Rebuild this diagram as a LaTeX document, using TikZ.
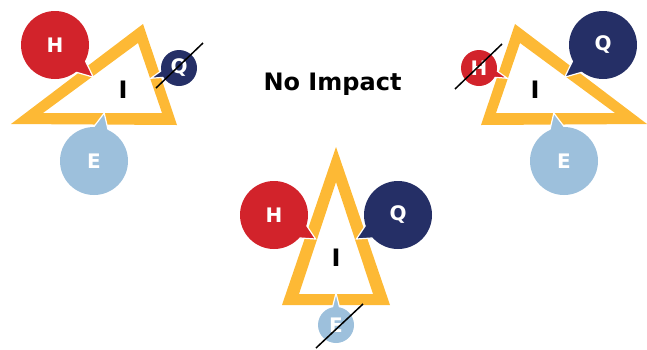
\documentclass[tikz,border=0pt]{standalone}
\usepackage{fontspec}
\setmainfont{DejaVu Sans}
\usepackage{tikz}
\usetikzlibrary{calc,backgrounds}
\definecolor{TriYellow}{HTML}{FDB935}
\definecolor{HRed}{HTML}{D2232B}
\definecolor{QNavy}{HTML}{252F66}
\definecolor{ELightBlue}{HTML}{9DC0DC}

% speech-bubble pointer: node, angle, radius, tip distance, colour
\newcommand{\bubtail}[5]{%
  \filldraw[tail, fill=#5] ($(#1)+({#2-17}:{#3-3})$) -- ($(#1)+(#2:#4)$) -- ($(#1)+({#2+17}:{#3-3})$) -- cycle;}

\begin{document}
\begin{tikzpicture}[
  x=1pt, y=1pt,
  bub/.style={circle, inner sep=0pt, text=white, font=\fontsize{20}{20}\selectfont\bfseries},
  big/.style={bub, minimum size=68pt},
  small/.style={bub, minimum size=36pt},
  hbub/.style={fill=HRed},
  qbub/.style={fill=QNavy},
  ebub/.style={fill=ELightBlue},
  tri/.style={fill=TriYellow, even odd rule},
  tail/.style={draw=white, line width=1.2pt, line join=miter},
  ilabel/.style={font=\fontsize{24}{24}\selectfont\bfseries, inner sep=0pt},
  slash/.style={draw=black, line width=1.5pt}
]
\useasboundingbox (0,0) rectangle (647,-349);

%% title
\node[ilabel, anchor=base] (title) at (332.5,-90) {No Impact};

%% left group -- Q knocked out
\node[big, hbub] (lh) at (55,-45) {H};
\node[small, qbub] (lq) at (179,-68) {Q};
\node[big, ebub] (le) at (94,-161) {E};
\node[ilabel] (li) at (123,-90) {I};

%% right group -- H knocked out
\node[small, hbub] (rh) at (479,-68) {H};
\node[big, qbub] (rq) at (603,-45) {Q};
\node[big, ebub] (re) at (564,-161) {E};
\node[ilabel] (ri) at (535,-90) {I};

%% bottom group -- E knocked out
\node[big, hbub] (bh) at (274,-215) {H};
\node[big, qbub] (bq) at (398,-215) {Q};
\node[small, ebub] (be) at (336,-325) {E};
\node[ilabel] (bi) at (336,-258) {I};

\begin{scope}[on background layer]
  \fill[tri] (11,-124) -- (143,-24) -- (177,-125) -- cycle
             (43,-113) -- (138,-43) -- (162,-113) -- cycle;
  \fill[tri] (647,-124) -- (515,-24) -- (481,-125) -- cycle
             (615,-113) -- (520,-43) -- (496,-113) -- cycle;
  \fill[tri] (336,-147) -- (282,-305) -- (390,-305) -- cycle
             (336,-182) -- (299,-294) -- (373,-294) -- cycle;
  \bubtail{lh}{-40}{34}{50}{HRed}
  \bubtail{lq}{-160}{18}{30}{QNavy}
  \bubtail{le}{78}{34}{49}{ELightBlue}
  \bubtail{rh}{-20}{18}{30}{HRed}
  \bubtail{rq}{-140}{34}{50}{QNavy}
  \bubtail{re}{102}{34}{49}{ELightBlue}
  \bubtail{bh}{-30}{34}{48}{HRed}
  \bubtail{bq}{-150}{34}{48}{QNavy}
  \bubtail{be}{90}{18}{32}{ELightBlue}
\end{scope}

%% strike-outs
\draw[slash] ($(lq)+(-23,-20)$) -- ($(lq)+(24,25)$);
\draw[slash] ($(rh)+(-24,-21)$) -- ($(rh)+(23,24)$);
\draw[slash] ($(be)+(-20,-23)$) -- ($(be)+(27,21)$);
\end{tikzpicture}
\end{document}
